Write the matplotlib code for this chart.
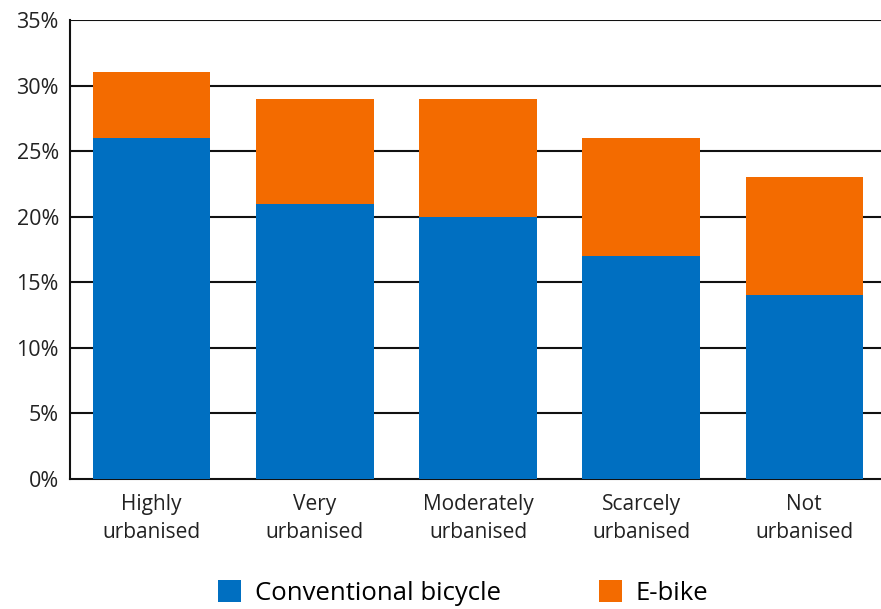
import matplotlib
matplotlib.use("Agg")
import matplotlib.pyplot as plt
from matplotlib.patches import Patch

categories = ["Highly\nurbanised", "Very\nurbanised", "Moderately\nurbanised",
              "Scarcely\nurbanised", "Not\nurbanised"]
conventional = [26, 21, 20, 17, 14]
ebike = [5, 8, 9, 9, 9]
yticks = [0, 5, 10, 15, 20, 25, 30, 35]
ytick_labels = [f"{v}%" for v in yticks]

BLUE = "#006FC1"
ORANGE = "#F36B00"

plt.rcParams['font.family'] = ['Open Sans', 'DejaVu Sans']

fig = plt.figure(figsize=(8.81, 6.09), dpi=100)
ax = fig.add_axes([70/881, 1-479/609, 1-70/881, (479-20)/609])

x = list(range(len(categories)))
w = 0.72
ax.bar(x, conventional, width=w, color=BLUE, zorder=3)
ax.bar(x, ebike, width=w, bottom=conventional, color=ORANGE, zorder=3)

ax.set_ylim(0, 35)
ax.set_xlim(-0.5, 4.47)
ax.set_yticks(yticks)
ax.set_yticklabels(ytick_labels, fontsize=15.5, color="#222222")
ax.set_xticks(x)
ax.set_xticklabels(categories, fontsize=15, color="#222222", linespacing=1.4)
ax.tick_params(axis='both', length=0)
ax.tick_params(axis='x', pad=11)
ax.tick_params(axis='y', pad=8)

for v in yticks[1:]:
    ax.axhline(v, color="#111111", lw=1.5, zorder=1)

for s in ["top", "right"]:
    ax.spines[s].set_visible(False)
ax.spines["left"].set_linewidth(1.5)
ax.spines["bottom"].set_linewidth(1.5)
ax.spines["left"].set_color("#111111")
ax.spines["bottom"].set_color("#111111")

handles = [Patch(facecolor=BLUE, label="Conventional bicycle"),
           Patch(facecolor=ORANGE, label="E-bike")]
fig.legend(handles=handles, loc="center", bbox_to_anchor=(463/881, 1-593/609),
           ncol=2, frameon=False, fontsize=18.5, handlelength=0.9, handleheight=0.9,
           handletextpad=0.55, columnspacing=3.8)

fig.savefig("out.png", dpi=100)
